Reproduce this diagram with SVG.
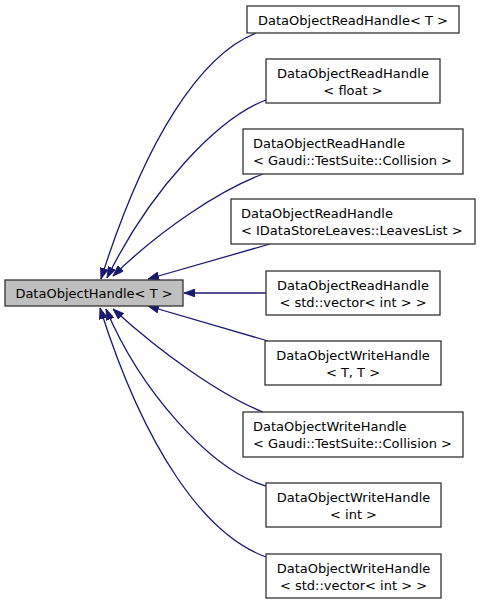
<svg xmlns="http://www.w3.org/2000/svg" width="480" height="604" viewBox="0 0 480 604">
<style>
.n{fill:#ffffff;stroke:#333333;stroke-width:1.3}
.m{fill:#bfbfbf;stroke:#333333;stroke-width:1.3}
text{font-family:"DejaVu Sans",sans-serif;font-size:13px;fill:#000000}
.c{text-anchor:middle}
.e{fill:none;stroke:#191970;stroke-width:1.3}
</style>
<defs>
<marker id="ah" viewBox="0 0 11 8" refX="11" refY="4" markerWidth="11" markerHeight="8" markerUnits="userSpaceOnUse" orient="auto">
<polygon points="0,0 11,4 0,8" fill="#191970" stroke="#191970" stroke-width="0.8"/>
</marker>
</defs>
<rect width="480" height="604" fill="#ffffff"/>
<g id="connectors">
<path class="e" marker-end="url(#ah)" d="M256,33 C200,55 145,140 101,279"/>
<path class="e" marker-end="url(#ah)" d="M266,100 C218,118 150,190 107,278"/>
<path class="e" marker-end="url(#ah)" d="M263,174 C220,190 160,230 113,276"/>
<path class="e" marker-end="url(#ah)" d="M270,244 L148,279"/>
<path class="e" marker-end="url(#ah)" d="M266,293 L184,293"/>
<path class="e" marker-end="url(#ah)" d="M268,341 L148,306"/>
<path class="e" marker-end="url(#ah)" d="M263,412 C220,395 160,352 113,309"/>
<path class="e" marker-end="url(#ah)" d="M266,486 C210,470 140,390 106,309"/>
<path class="e" marker-end="url(#ah)" d="M266,557 C205,535 145,450 100,308"/>
</g>
<g id="node-main">
<rect class="m" x="5" y="280" width="178" height="26"/>
<text class="c" x="94" y="298">DataObjectHandle&lt; T &gt;</text>
</g>
<g id="node-read-T">
<rect class="n" x="247" y="6" width="212" height="27"/>
<text class="c" x="353" y="24.5">DataObjectReadHandle&lt; T &gt;</text>
</g>
<g id="node-read-float">
<rect class="n" x="266" y="59" width="174" height="44"/>
<text class="c" x="353" y="78">DataObjectReadHandle</text>
<text class="c" x="353" y="95">&lt; float &gt;</text>
</g>
<g id="node-read-collision">
<rect class="n" x="243" y="129" width="220" height="45"/>
<text x="253" y="148">DataObjectReadHandle</text>
<text x="253" y="165">&lt; Gaudi::TestSuite::Collision &gt;</text>
</g>
<g id="node-read-leaves">
<rect class="n" x="231" y="199" width="244" height="45"/>
<text x="241" y="218">DataObjectReadHandle</text>
<text x="241" y="235">&lt; IDataStoreLeaves::LeavesList &gt;</text>
</g>
<g id="node-read-vector">
<rect class="n" x="266" y="271" width="174" height="44"/>
<text class="c" x="353" y="290">DataObjectReadHandle</text>
<text class="c" x="353" y="307">&lt; std::vector&lt; int &gt; &gt;</text>
</g>
<g id="node-write-TT">
<rect class="n" x="265" y="341" width="176" height="44"/>
<text class="c" x="353" y="360">DataObjectWriteHandle</text>
<text class="c" x="353" y="377">&lt; T, T &gt;</text>
</g>
<g id="node-write-collision">
<rect class="n" x="243" y="412" width="220" height="45"/>
<text x="253" y="431">DataObjectWriteHandle</text>
<text x="253" y="448">&lt; Gaudi::TestSuite::Collision &gt;</text>
</g>
<g id="node-write-int">
<rect class="n" x="266" y="483" width="175" height="44"/>
<text class="c" x="353.5" y="502">DataObjectWriteHandle</text>
<text class="c" x="353.5" y="519">&lt; int &gt;</text>
</g>
<g id="node-write-vector">
<rect class="n" x="266" y="554" width="175" height="44"/>
<text class="c" x="353.5" y="573">DataObjectWriteHandle</text>
<text class="c" x="353.5" y="590">&lt; std::vector&lt; int &gt; &gt;</text>
</g>
</svg>
